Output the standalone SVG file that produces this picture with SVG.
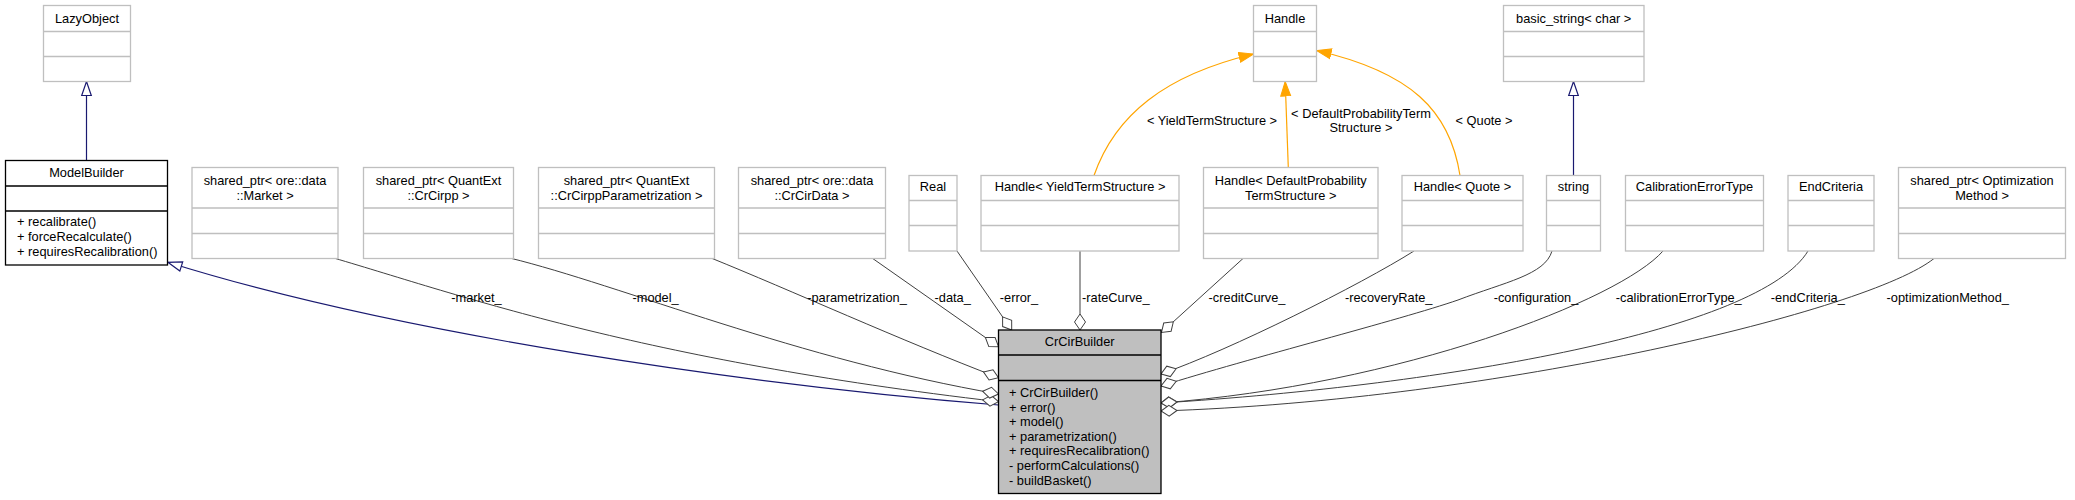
<svg xmlns="http://www.w3.org/2000/svg" width="2075" height="500" viewBox="0 0 2075 500">
<style>
text{font-family:"Liberation Sans",Arial,sans-serif;font-size:12.8px;fill:#000}
.c{text-anchor:middle}
.box{fill:#fff;stroke:#bfbfbf;stroke-width:1.3}
.dark{fill:#fff;stroke:#000;stroke-width:1.3}
.main{fill:#bfbfbf;stroke:#000;stroke-width:1.3}
.dv{stroke:#bfbfbf;stroke-width:1.3}
.dvk{stroke:#000;stroke-width:1.3}
.comp{fill:none;stroke:#404040;stroke-width:1}
.inh{fill:none;stroke:#191970;stroke-width:1.2}
.tpl{fill:none;stroke:#ffa500;stroke-width:1.2}
</style>
<defs>
<marker id="dia" markerUnits="userSpaceOnUse" markerWidth="20" markerHeight="14" refX="17" refY="7" orient="auto">
<path d="M1,7 L9,1.5 L17,7 L9,12.5 Z" fill="#fff" stroke="#404040" stroke-width="1"/>
</marker>
<marker id="tri" markerUnits="userSpaceOnUse" markerWidth="18" markerHeight="14" refX="15" refY="7" orient="auto">
<path d="M1,2.2 L15,7 L1,11.8 Z" fill="#fff" stroke="#191970" stroke-width="1.2"/>
</marker>
<marker id="otri" markerUnits="userSpaceOnUse" markerWidth="18" markerHeight="14" refX="15" refY="7" orient="auto">
<path d="M0.5,2 L15,7 L0.5,12 Z" fill="#ffa500" stroke="#ffa500" stroke-width="1"/>
</marker>
</defs>

<g id="edges">
<path class="inh" d="M86.5,160.5 L86.5,81.5" marker-end="url(#tri)"/>
<path class="inh" d="M1573.5,175.5 L1573.5,81.5" marker-end="url(#tri)"/>
<path class="inh" d="M998.5,405 C750,385 400,335 167.9,262.3" marker-end="url(#tri)"/>
<path class="tpl" d="M1094,175.5 C1115,115 1165,75 1253.5,54" marker-end="url(#otri)"/>
<path class="tpl" d="M1288.3,167.5 L1285.2,81.5" marker-end="url(#otri)"/>
<path class="tpl" d="M1460,175.5 C1450,110 1410,72 1316.7,50.5" marker-end="url(#otri)"/>
<path class="comp" d="M333.7,258 C460,295 640,360 998.5,401.7" marker-end="url(#dia)"/>
<path class="comp" d="M509.7,258 C620,285 800,360 998.5,394" marker-end="url(#dia)"/>
<path class="comp" d="M711,258 C790,290 900,340 998.5,377.7" marker-end="url(#dia)"/>
<path class="comp" d="M872,258 L998.5,346.7" marker-end="url(#dia)"/>
<path class="comp" d="M957,251 L1011.7,330" marker-end="url(#dia)"/>
<path class="comp" d="M1080,251 L1080,330" marker-end="url(#dia)"/>
<path class="comp" d="M1243,258.5 L1161.5,332.5" marker-end="url(#dia)"/>
<path class="comp" d="M1414,251 C1360,285 1230,350 1161,374" marker-end="url(#dia)"/>
<path class="comp" d="M1552,251 C1545,275 1505,282 1458,300 C1400,320 1250,358 1161,386" marker-end="url(#dia)"/>
<path class="comp" d="M1663,251 C1620,300 1400,385 1161,403" marker-end="url(#dia)"/>
<path class="comp" d="M1808,251 C1760,330 1450,385 1161,403" marker-end="url(#dia)"/>
<path class="comp" d="M1934,258.5 C1870,310 1500,400 1161,411" marker-end="url(#dia)"/>
<text class="c" x="476.5" y="301.5">-market_</text>
<text class="c" x="655.6" y="301.5">-model_</text>
<text class="c" x="857" y="301.5">-parametrization_</text>
<text class="c" x="952.7" y="301.5">-data_</text>
<text class="c" x="1019" y="301.5">-error_</text>
<text class="c" x="1115.8" y="301.5">-rateCurve_</text>
<text class="c" x="1247" y="301.5">-creditCurve_</text>
<text class="c" x="1388.7" y="301.5">-recoveryRate_</text>
<text class="c" x="1536" y="301.5">-configuration_</text>
<text class="c" x="1678.8" y="301.5">-calibrationErrorType_</text>
<text class="c" x="1807.8" y="301.5">-endCriteria_</text>
<text class="c" x="1947.8" y="301.5">-optimizationMethod_</text>
<text class="c" x="1212" y="124.5">&lt; YieldTermStructure &gt;</text>
<text class="c" x="1361" y="117.5">&lt; DefaultProbabilityTerm</text>
<text class="c" x="1361" y="132">Structure &gt;</text>
<text class="c" x="1484" y="124.5">&lt; Quote &gt;</text>
</g>

<g id="LazyObject">
<rect class="box" x="43.5" y="5.5" width="87" height="76"/>
<path class="dv" d="M43.5,31.5 H130.5 M43.5,56.5 H130.5"/>
<text class="c" x="87" y="23">LazyObject</text>
</g>

<g id="ModelBuilder">
<rect class="dark" x="5.5" y="160.5" width="162" height="104.5"/>
<path class="dvk" d="M5.5,186 H167.5 M5.5,211 H167.5"/>
<text class="c" x="86.5" y="177">ModelBuilder</text>
<text x="17" y="226">+ recalibrate()</text>
<text x="17" y="241">+ forceRecalculate()</text>
<text x="17" y="256">+ requiresRecalibration()</text>
</g>

<g id="Market">
<rect class="box" x="192" y="167.5" width="146" height="91"/>
<path class="dv" d="M192,208 H338 M192,233.5 H338"/>
<text class="c" x="265" y="185">shared_ptr&lt; ore::data</text>
<text class="c" x="265" y="199.5">::Market &gt;</text>
</g>

<g id="CrCirpp">
<rect class="box" x="363.5" y="167.5" width="150" height="91"/>
<path class="dv" d="M363.5,208 H513.5 M363.5,233.5 H513.5"/>
<text class="c" x="438.5" y="185">shared_ptr&lt; QuantExt</text>
<text class="c" x="438.5" y="199.5">::CrCirpp &gt;</text>
</g>

<g id="CrCirppParametrization">
<rect class="box" x="538.5" y="167.5" width="176" height="91"/>
<path class="dv" d="M538.5,208 H714.5 M538.5,233.5 H714.5"/>
<text class="c" x="626.5" y="185">shared_ptr&lt; QuantExt</text>
<text class="c" x="626.5" y="199.5">::CrCirppParametrization &gt;</text>
</g>

<g id="CrCirData">
<rect class="box" x="738.5" y="167.5" width="147" height="91"/>
<path class="dv" d="M738.5,208 H885.5 M738.5,233.5 H885.5"/>
<text class="c" x="812" y="185">shared_ptr&lt; ore::data</text>
<text class="c" x="812" y="199.5">::CrCirData &gt;</text>
</g>

<g id="Real">
<rect class="box" x="909" y="175.5" width="48" height="75.5"/>
<path class="dv" d="M909,200.5 H957 M909,225.5 H957"/>
<text class="c" x="933" y="191">Real</text>
</g>

<g id="HandleYTS">
<rect class="box" x="981" y="175.5" width="198" height="75.5"/>
<path class="dv" d="M981,200.5 H1179 M981,225.5 H1179"/>
<text class="c" x="1080" y="191">Handle&lt; YieldTermStructure &gt;</text>
</g>

<g id="HandleDPTS">
<rect class="box" x="1203.5" y="167.5" width="174.5" height="91"/>
<path class="dv" d="M1203.5,208 H1378 M1203.5,233.5 H1378"/>
<text class="c" x="1290.7" y="185">Handle&lt; DefaultProbability</text>
<text class="c" x="1290.7" y="199.5">TermStructure &gt;</text>
</g>

<g id="HandleQuote">
<rect class="box" x="1402" y="175.5" width="121" height="75.5"/>
<path class="dv" d="M1402,200.5 H1523 M1402,225.5 H1523"/>
<text class="c" x="1462.5" y="191">Handle&lt; Quote &gt;</text>
</g>

<g id="string">
<rect class="box" x="1546.5" y="175.5" width="54" height="75.5"/>
<path class="dv" d="M1546.5,200.5 H1600.5 M1546.5,225.5 H1600.5"/>
<text class="c" x="1573.5" y="191">string</text>
</g>

<g id="CalibrationErrorType">
<rect class="box" x="1625.5" y="175.5" width="138" height="75.5"/>
<path class="dv" d="M1625.5,200.5 H1763.5 M1625.5,225.5 H1763.5"/>
<text class="c" x="1694.5" y="191">CalibrationErrorType</text>
</g>

<g id="EndCriteria">
<rect class="box" x="1788" y="175.5" width="86" height="75.5"/>
<path class="dv" d="M1788,200.5 H1874 M1788,225.5 H1874"/>
<text class="c" x="1831" y="191">EndCriteria</text>
</g>

<g id="OptimizationMethod">
<rect class="box" x="1898.5" y="167.5" width="167" height="91"/>
<path class="dv" d="M1898.5,208 H2065.5 M1898.5,233.5 H2065.5"/>
<text class="c" x="1982" y="185">shared_ptr&lt; Optimization</text>
<text class="c" x="1982" y="199.5">Method &gt;</text>
</g>

<g id="Handle">
<rect class="box" x="1253.5" y="5.5" width="63" height="76"/>
<path class="dv" d="M1253.5,31.5 H1316.5 M1253.5,56.5 H1316.5"/>
<text class="c" x="1285" y="23">Handle</text>
</g>

<g id="basic_string">
<rect class="box" x="1503.5" y="5.5" width="140.5" height="76"/>
<path class="dv" d="M1503.5,31.5 H1644 M1503.5,56.5 H1644"/>
<text class="c" x="1573.7" y="23">basic_string&lt; char &gt;</text>
</g>

<g id="CrCirBuilder">
<rect class="main" x="998.5" y="330" width="162.5" height="163.5"/>
<path class="dvk" d="M998.5,355 H1161 M998.5,380.5 H1161"/>
<text class="c" x="1079.7" y="346">CrCirBuilder</text>
<text x="1009" y="397">+ CrCirBuilder()</text>
<text x="1009" y="411.6">+ error()</text>
<text x="1009" y="426.2">+ model()</text>
<text x="1009" y="440.8">+ parametrization()</text>
<text x="1009" y="455.4">+ requiresRecalibration()</text>
<text x="1009" y="470">- performCalculations()</text>
<text x="1009" y="484.6">- buildBasket()</text>
</g>
</svg>
